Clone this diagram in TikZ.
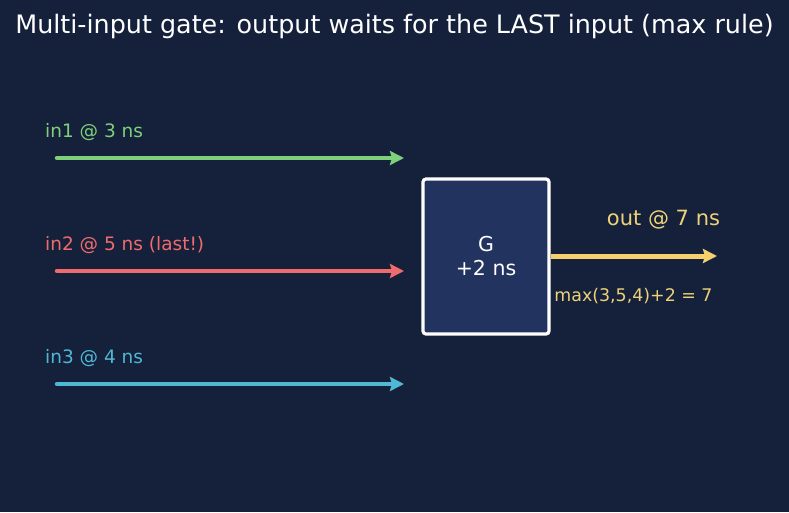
\documentclass[tikz,border=0pt]{standalone}
\usepackage{fontspec}
\setmainfont{DejaVu Sans}
\usetikzlibrary{arrows.meta, positioning}
\definecolor{bgcol}{HTML}{15203B}
\definecolor{gatecol}{HTML}{22335F}
\definecolor{incolA}{HTML}{7ED07A}
\definecolor{incolB}{HTML}{F06B6B}
\definecolor{incolC}{HTML}{4FB8D4}
\definecolor{outcol}{HTML}{F5D06F}
\definecolor{outtxt}{HTML}{EDD27A}
\tikzset{%
  gate/.style={draw=white, line width=3.2pt, rounded corners=3pt, fill=gatecol,
    minimum width=126pt, minimum height=155pt, align=center, text=white,
    font=\fontsize{20.5}{24}\selectfont},
  wire/.style={line width=4.5pt, line cap=round,
    -{Stealth[length=14pt, width=14pt, inset=2pt]}},
  inlabel/.style={anchor=west, inner sep=0pt, font=\fontsize{18.5}{21}\selectfont},
  outlabel/.style={inner sep=0pt, text=outtxt}
}
\begin{document}
\begin{tikzpicture}[x=1pt, y=-1pt]
      \fill[bgcol] (0,0) rectangle (789,512);
      \useasboundingbox (0,0) rectangle (789,512);
      \node[text=white, font=\fontsize{25.4}{28}\selectfont] (title) at (394.5,26)
        {Multi-input gate: output waits for the LAST input (max rule)};
      \node[gate] (g) at (486,256.5) {G\\+2 ns};
      % inputs
      \coordinate (s1) at (57,158);
      \coordinate (e1) at (404,158);
      \coordinate (s2) at (57,271);
      \coordinate (e2) at (404,271);
      \coordinate (s3) at (57,384);
      \coordinate (e3) at (404,384);
      \node[inlabel, text=incolA] (l1) at (45,132) {in1 @ 3 ns};
      \node[inlabel, text=incolB] (l2) at (45,245) {in2 @ 5 ns (last!)};
      \node[inlabel, text=incolC] (l3) at (45,358) {in3 @ 4 ns};
      \draw[wire, incolA] (s1) -- (e1);
      \draw[wire, incolB] (s2) -- (e2);
      \draw[wire, incolC] (s3) -- (e3);
      % output
      \coordinate (o) at (717,256);
      \draw[wire, outcol, line width=5pt, line cap=butt] (g.east |- o) -- (o);
      \node[outlabel, font=\fontsize{21}{24}\selectfont] (ol) at (663.5,220) {out @ 7 ns};
      \node[outlabel, font=\fontsize{17.4}{20}\selectfont] (ml) at (633.5,296) {max(3,5,4)+2 = 7};
    \end{tikzpicture}
\end{document}
